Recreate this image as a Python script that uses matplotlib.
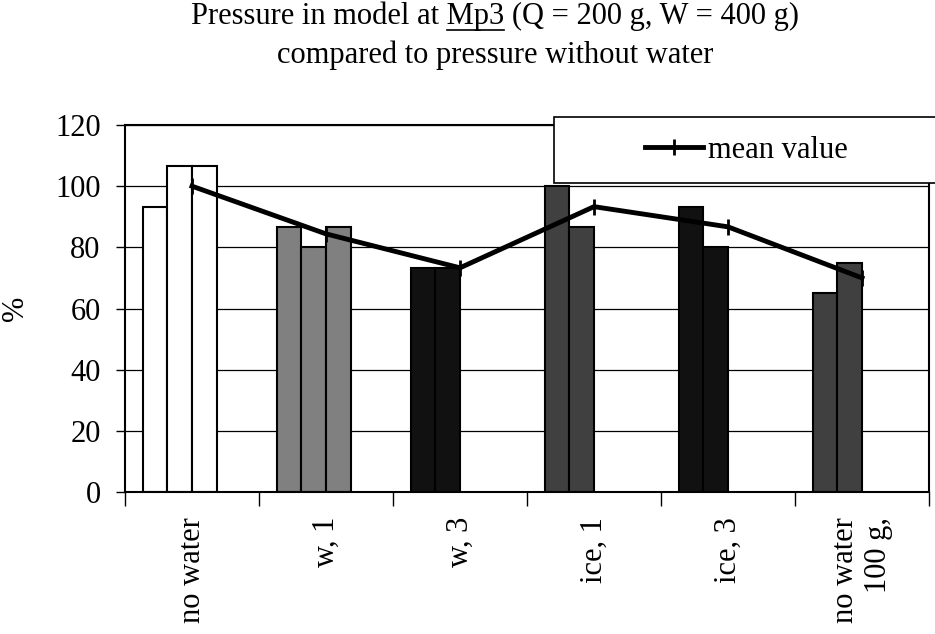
import numpy as np
import matplotlib
matplotlib.use('Agg')
import matplotlib.pyplot as plt
from matplotlib.patches import Rectangle
from matplotlib.lines import Line2D

plt.rcParams['font.family'] = ['Liberation Serif', 'DejaVu Serif']
FS = 22

# Data
categories = ["no water", "w, 1", "w, 3", "ice, 1", "ice, 3", "no water\n100 g,"]
run1 = [93.3, 86.7, 73.3, 100.0, 93.3, 65.0]
run2 = [106.7, 80.0, 73.3, 86.7, 80.0, 75.0]
run3 = [106.7, 86.7, np.nan, np.nan, np.nan, np.nan]
mean_values = [100.0, 84.4, 73.3, 93.3, 86.7, 70.0]
group_colors = ['white', '#808080', '#111111', '#404040', '#111111', '#404040']

fig = plt.figure(figsize=(9.35, 6.34), dpi=100)
ax = fig.add_axes([125/935, (634-492)/634, 804/935, 367/634])

x = np.arange(len(categories))
w = 0.183
for i, vals in enumerate([run1, run2, run3]):
    ax.bar(x + (i - 1.5) * w, vals, w, align='center', color=group_colors,
           edgecolor='black', linewidth=1.5, zorder=2)

ax.plot(x, mean_values, color='black', linewidth=3.5, marker='|',
        markersize=12, markeredgewidth=2, zorder=3)

ax.set_xlim(-0.5, len(categories) - 0.5)
ax.set_ylim(0, 120)
ax.set_yticks(range(0, 121, 20))
ax.yaxis.grid(True, color='black', linewidth=0.9)
ax.set_axisbelow(True)
for s in ax.spines.values():
    s.set_linewidth(1.5)

ax.set_xticks(np.arange(-0.5, len(categories)), [])
ax.set_xticks(x, categories, minor=True, rotation=90, va='top',
              multialignment='right')
ax.tick_params(axis='x', which='major', length=10, width=1, direction='out')
ax.tick_params(axis='x', which='minor', length=0, pad=18, labelsize=FS)
ax.tick_params(axis='y', length=6.5, width=1, pad=11, labelsize=FS)
ax.set_ylabel('%', fontsize=FS, va='center')
ax.yaxis.set_label_coords(-0.136, 0.5)

# title with underlined Mp3
line1 = "Pressure in model at Mp3 (Q = 200 g, W = 400 g)"
t1 = fig.text(495/935, (634-24)/634, line1, ha='center', va='baseline', fontsize=FS)
fig.text(495/935, (634-63)/634, "compared to pressure without water",
         ha='center', va='baseline', fontsize=FS)
fig.canvas.draw()
r = fig.canvas.get_renderer()
def text_w(s):
    tt = fig.text(0, 0, s, fontsize=FS)
    ww = tt.get_window_extent(r).width
    tt.remove()
    return ww
bb = t1.get_window_extent(r)
x_end = bb.x0 + text_w("Pressure in model at Mp3")
x_start = x_end - text_w("Mp3")
fig.add_artist(Line2D([x_start/935, x_end/935], [(634-30)/634]*2,
                      transform=fig.transFigure, color='black', linewidth=1.2))

# legend box
fig.add_artist(Rectangle((554/935, (634-183)/634), 400/935, 66/634,
                         transform=fig.transFigure, facecolor='white',
                         edgecolor='black', linewidth=1.2, zorder=5))
leg = fig.legend([Line2D([], [], color='black', linewidth=3.5, marker='|',
                         markersize=12, markeredgewidth=2)],
                 ['mean value'], loc='center left',
                 bbox_to_anchor=(645/935, (634-150)/634), frameon=False,
                 fontsize=FS, handlelength=1.9, handletextpad=0.15,
                 borderpad=0, borderaxespad=0)
leg.set_zorder(6)

fig.savefig('out.png', dpi=100)
